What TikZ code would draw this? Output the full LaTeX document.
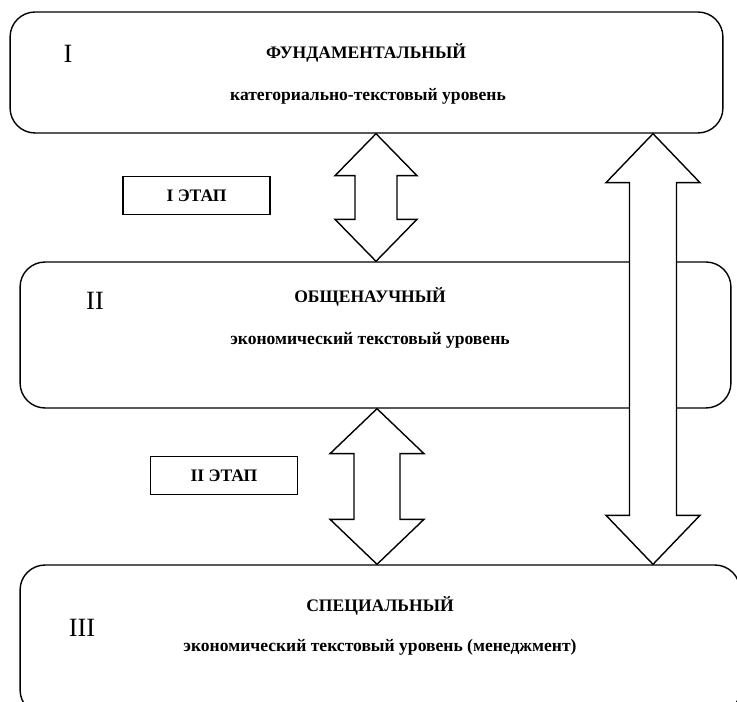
\documentclass[tikz,border=0pt]{standalone}
\usepackage{fontspec}
\setmainfont{Liberation Serif}
\usetikzlibrary{calc}
\tikzset{
	levelbox/.style={
		rectangle, rounded corners=0.5cm,
		draw=black, line width=0.8pt, inner sep=0pt
	},
	stagebox/.style={
		rectangle, draw=black, line width=0.8pt,
		minimum width=2.94cm, minimum height=0.77cm,
		font=\fontsize{10}{12}\selectfont\bfseries
	},
	titletext/.style={
		inner sep=0pt, font=\fontsize{10}{12}\selectfont\bfseries
	},
	numtext/.style={
		inner sep=0pt, font=\fontsize{15}{18}\selectfont
	},
	blockarrow/.style={
		draw=black, fill=white, line width=0.8pt, line join=miter
	}
}
% double block arrow: top tip, bottom tip, head half width, shaft half width, head length
\newcommand{\blockarr}[5]{%
	\draw[blockarrow] (#1) -- ($(#1)+(#3,#5)$) -- ($(#1)+(#4,#5)$)
	-- ($(#2)+(#4,-#5)$) -- ($(#2)+(#3,-#5)$) -- (#2)
	-- ($(#2)+(-#3,-#5)$) -- ($(#2)+(-#4,-#5)$)
	-- ($(#1)+(-#4,#5)$) -- ($(#1)+(-#3,#5)$) -- cycle;}
\begin{document}
\begin{tikzpicture}[x=0.02cm, y=-0.02cm]
	\useasboundingbox (0,0) rectangle (737,702);
	\clip (0,0) rectangle (737,702);
	
	%% ═══════════════════════════════
	%%  LEVELS
	%% ═══════════════════════════════
	\node[levelbox, minimum width=14.26cm, minimum height=2.42cm] (lvlI)   at (366.5,72.5) {};
	\node[levelbox, minimum width=14.22cm, minimum height=2.92cm] (lvlII)  at (375.5,335)  {};
	\node[levelbox, minimum width=14.4cm,  minimum height=3cm]    (lvlIII) at (380,640)    {};
	
	\node[numtext]   (numI)   at (68,54)   {I};
	\node[titletext] (ttlI)   at (366,53)  {ФУНДАМЕНТАЛЬНЫЙ};
	\node[titletext] (subI)   at (368,96)  {категориально-текстовый уровень};
	
	\node[numtext]   (numII)  at (95,301)  {II};
	\node[titletext] (ttlII)  at (370,297) {ОБЩЕНАУЧНЫЙ};
	\node[titletext] (subII)  at (370,340) {экономический текстовый уровень};
	
	\node[numtext]   (numIII) at (82,628)  {III};
	\node[titletext] (ttlIII) at (380,606) {СПЕЦИАЛЬНЫЙ};
	\node[titletext] (subIII) at (380,647) {экономический текстовый уровень (менеджмент)};
	
	%% ═══════════════════════════════
	%%  STAGES
	%% ═══════════════════════════════
	\node[stagebox] (stI)  at (196.5,195.5) {I ЭТАП};
	\node[stagebox] (stII) at (224,475.5)   {II ЭТАП};
	
	%% ═══════════════════════════════
	%%  BLOCK ARROWS
	%% ═══════════════════════════════
	\coordinate (xa) at (376,0);
	\coordinate (xb) at (377,0);
	\coordinate (xc) at (653,0);
	
	\coordinate (atop) at (lvlI.south -| xa);
	\coordinate (abot) at (lvlII.north -| xa);
	\coordinate (btop) at (lvlII.south -| xb);
	\coordinate (bbot) at (lvlIII.north -| xb);
	\coordinate (ctop) at (lvlI.south -| xc);
	\coordinate (cbot) at (lvlIII.north -| xc);
	
	% I <-> II
	\blockarr{atop}{abot}{41}{21}{42}
	% II <-> III
	\blockarr{btop}{bbot}{47}{23}{45}
	% I <-> III
	\blockarr{ctop}{cbot}{47}{23.5}{49}
\end{tikzpicture}
\end{document}
